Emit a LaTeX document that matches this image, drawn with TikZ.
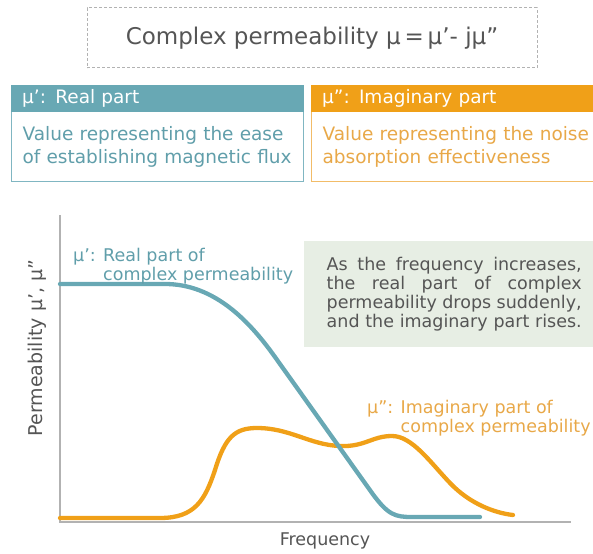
\documentclass[tikz,border=0pt]{standalone}
\usepackage{fontspec}
\setmainfont{DejaVu Sans}
\usepackage{tikz}
\usetikzlibrary{positioning}

\definecolor{realc}{RGB}{104,168,180}
\definecolor{reallt}{RGB}{128,182,194}
\definecolor{realtx}{RGB}{96,158,170}
\definecolor{imagc}{RGB}{240,160,24}
\definecolor{imaglt}{RGB}{242,188,104}
\definecolor{imagtx}{RGB}{232,168,72}
\definecolor{notec}{RGB}{231,238,228}
\definecolor{inkc}{RGB}{85,85,85}
\definecolor{axisc}{RGB}{178,178,178}

\begin{document}
\begin{tikzpicture}[x=1pt,y=-1pt,
  head/.style={anchor=north west,minimum width=292pt,minimum height=26pt,inner xsep=11pt,
    text width=270pt,align=left,text=white,font=\fontsize{18.5}{22}\selectfont},
  body/.style={anchor=north west,minimum width=292pt,minimum height=70pt,inner xsep=11pt,
    text width=270pt,align=left,line width=1.2pt,font=\fontsize{18.5}{23}\selectfont},
  lbl/.style={inner sep=0pt,align=left,font=\fontsize{17.5}{19}\selectfont},
  curve/.style={line width=4.3pt,line cap=round}]
\useasboundingbox (0,0) rectangle (593,553);

% title
\node (T) [draw=axisc,dashed,dash pattern=on 3pt off 2pt,line width=1pt,minimum width=450pt,minimum height=60pt,text=inkc,font=\fontsize{23}{27}\selectfont] at(312,38) {Complex permeability μ\,=\,μ’- jμ”};

% real part box
\node (R2) [body,draw=reallt,text=realtx] at(11,111) {Value representing the ease\\of establishing magnetic flux};
\node (R1) [head,fill=realc,draw=realc] at(11,85) {μ’: Real part};

% imaginary part box
\node (I2) [body,draw=imaglt,text=imagtx,text width=290pt] at(311,111) {Value representing the noise\\absorption effectiveness};
\node (I1) [head,fill=imagc,draw=imagc,text width=290pt] at(311,85) {μ”: Imaginary part};

% note
\node (N) [anchor=north west,fill=notec,minimum width=300pt,minimum height=106pt,inner xsep=19pt,align=left,text=inkc,font=\fontsize{17.5}{19}\selectfont] at(304,241)
  {\makebox[255pt][s]{As the frequency increases,}\\
   \makebox[255pt][s]{the real part of complex}\\
   \makebox[255pt][s]{permeability drops suddenly,}\\
   \makebox[255pt][s]{and the imaginary part rises.}};

% axes
\coordinate (O) at(60,522);
\coordinate (Y) at(60,215);
\coordinate (X) at(571,522);
\draw[axisc,line width=1.5pt] (Y) -- (O) -- (X);
\node (YL) [rotate=90,text=inkc,font=\fontsize{19}{21}\selectfont] at(37,348) {Permeability μ’, μ”};
\node (XL) [text=inkc,font=\fontsize{17.5}{20}\selectfont] at(325,541) {Frequency};

% curves
\draw[curve,imagc] (60,518) -- (160,518) .. controls (195,518) and (205,500) .. (215,470)
  .. controls (225,437) and (235,428) .. (257,428) .. controls (290,428) and (310,445) .. (340,446)
  .. controls (365,447) and (372,436) .. (392,436) .. controls (412,436) and (430,462) .. (450,483)
  .. controls (470,504) and (495,513) .. (513,515);
\draw[curve,realc] (60,284) -- (165,284) .. controls (215,284) and (250,322) .. (275,357)
  -- (372,493) .. controls (388,515) and (395,517) .. (412,517) -- (480,517);

% curve labels
\node (RL) [lbl,anchor=west,text=realtx] at(73,266) {μ’: Real part of\\\phantom{μ’: }complex permeability};
\node (IL) [lbl,anchor=west,text=imagtx] at(367,418) {μ”: Imaginary part of\\\phantom{μ”: }complex permeability};
\end{tikzpicture}
\end{document}
